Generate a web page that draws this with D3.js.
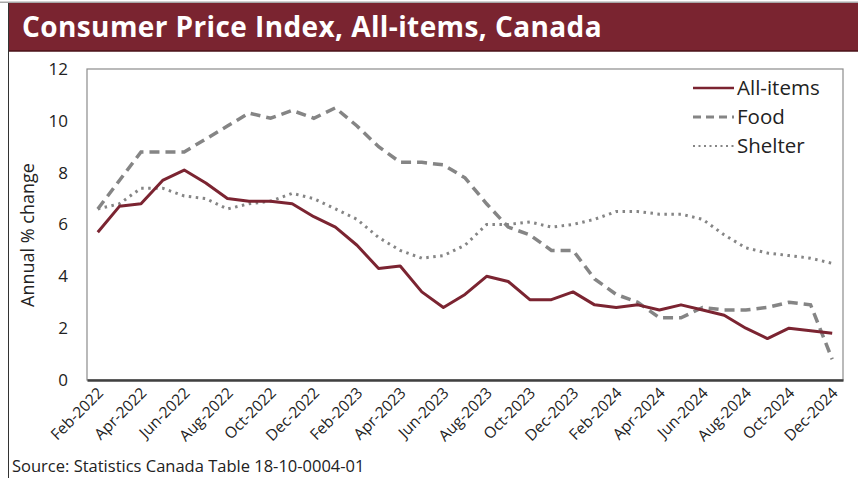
<!DOCTYPE html>
<html>
<head>
<meta charset="utf-8">
<script src="https://cdn.jsdelivr.net/npm/d3@7"></script>
<style>
  body { margin: 0; background: #fff; }
  svg { display: block; font-family: "Open Sans", sans-serif; }
</style>
</head>
<body>
<div id="chart"></div>
<script>
// monthly labels, Feb-2022 .. Dec-2024
var months = ["Feb-2022","Mar-2022","Apr-2022","May-2022","Jun-2022","Jul-2022","Aug-2022","Sep-2022","Oct-2022","Nov-2022","Dec-2022",
  "Jan-2023","Feb-2023","Mar-2023","Apr-2023","May-2023","Jun-2023","Jul-2023","Aug-2023","Sep-2023","Oct-2023","Nov-2023","Dec-2023",
  "Jan-2024","Feb-2024","Mar-2024","Apr-2024","May-2024","Jun-2024","Jul-2024","Aug-2024","Sep-2024","Oct-2024","Nov-2024","Dec-2024"];

var allItems = [5.7,6.7,6.8,7.7,8.1,7.6,7.0,6.9,6.9,6.8,6.3,
  5.9,5.2,4.3,4.4,3.4,2.8,3.3,4.0,3.8,3.1,3.1,3.4,
  2.9,2.8,2.9,2.7,2.9,2.7,2.5,2.0,1.6,2.0,1.9,1.8];

var food = [6.6,7.7,8.8,8.8,8.8,9.3,9.8,10.3,10.1,10.4,10.1,
  10.5,9.8,9.0,8.4,8.4,8.3,7.8,6.8,5.9,5.6,5.0,5.0,
  3.9,3.3,3.0,2.4,2.4,2.8,2.7,2.7,2.8,3.0,2.9,0.8];

var shelter = [6.6,6.8,7.4,7.4,7.1,7.0,6.6,6.8,6.9,7.2,7.0,
  6.6,6.2,5.5,5.0,4.7,4.8,5.2,6.0,6.0,6.1,5.9,6.0,
  6.2,6.5,6.5,6.4,6.4,6.2,5.6,5.1,4.9,4.8,4.7,4.5];

var yTicks = [0,2,4,6,8,10,12];
var seriesNames = ["All-items","Food","Shelter"];

var W = 858, H = 478;
var plotLeft = 87, plotRight = 843, plotTop = 69, plotBottom = 380;
var red = "#7b2431", grey = "#858585";

var svg = d3.select("#chart").append("svg").attr("width", W).attr("height", H);

// title band
svg.append("rect").attr("x", 0).attr("y", 1.5).attr("width", W).attr("height", 1.5).attr("fill", "#a8a8a8");
svg.append("rect").attr("x", 8).attr("y", 3).attr("width", W - 8).attr("height", 48).attr("fill", "#7a2430");
svg.append("line").attr("x1", 8).attr("x2", W).attr("y1", 51).attr("y2", 51).attr("stroke", "#4a1219").attr("stroke-width", 1.5);
svg.append("line").attr("x1", 8.5).attr("x2", 8.5).attr("y1", 3).attr("y2", H).attr("stroke", "#333").attr("stroke-width", 1);
svg.append("text").attr("x", 22).attr("y", 37)
  .attr("fill", "#fff").style("font-size", "28px").style("font-weight", 700)
  .style("letter-spacing", "0.4px")
  .text("Consumer Price Index, All-items, Canada");

var x = d3.scalePoint().domain(months).range([plotLeft, plotRight]).padding(0.5);
var y = d3.scaleLinear().domain([0, 12]).range([plotBottom, plotTop]);

// plot frame
svg.append("rect").attr("x", plotLeft).attr("y", plotTop).attr("width", plotRight - plotLeft).attr("height", plotBottom - plotTop)
  .attr("fill", "none").attr("stroke", "#8c8c8c").attr("stroke-width", 1.2);

// y axis
var yAxis = svg.append("g").attr("transform", "translate(" + plotLeft + ",0)")
  .call(d3.axisLeft(y).tickValues(yTicks).tickSize(0).tickPadding(19));
yAxis.select(".domain").remove();
yAxis.selectAll("text").style("font-size", "17px").attr("fill", "#222").style("font-family", "Open Sans");

svg.append("text")
  .attr("transform", "translate(34,235)rotate(-90)")
  .attr("text-anchor", "middle").style("font-size", "18px").attr("fill", "#222")
  .text("Annual % change");

// x axis
var xAxis = svg.append("g").attr("transform", "translate(0," + plotBottom + ")")
  .call(d3.axisBottom(x).tickValues(months.filter(function (d, i) { return i % 2 === 0; })).tickSize(0).tickPadding(0));
xAxis.select(".domain").attr("stroke", "#404040").attr("stroke-width", 2.5);
xAxis.selectAll("text")
  .style("font-size", "15.5px").attr("fill", "#222").style("font-family", "Open Sans")
  .attr("text-anchor", "end")
  .attr("y", 0).attr("dy", 0)
  .attr("transform", "translate(6,14)rotate(-45)");

// lines
var line = d3.line()
  .x(function (d, i) { return x(months[i]); })
  .y(function (d) { return y(d); });

svg.append("path").datum(shelter).attr("d", line)
  .attr("fill", "none").attr("stroke", grey).attr("stroke-width", 3)
  .attr("stroke-dasharray", "2.5,4.5");
svg.append("path").datum(food).attr("d", line)
  .attr("fill", "none").attr("stroke", grey).attr("stroke-width", 3.5)
  .attr("stroke-dasharray", "10,6");
svg.append("path").datum(allItems).attr("d", line)
  .attr("fill", "none").attr("stroke", red).attr("stroke-width", 3)
  .attr("stroke-linejoin", "round");

// legend
var legendStyles = [
  { stroke: red, width: 2.5, dash: null },
  { stroke: grey, width: 3, dash: "8,5" },
  { stroke: grey, width: 2, dash: "2,3.5" }
];
var legend = svg.append("g");
seriesNames.forEach(function (name, i) {
  var ly = 88 + i * 29;
  legend.append("line").attr("x1", 693).attr("x2", 734).attr("y1", ly).attr("y2", ly)
    .attr("stroke", legendStyles[i].stroke).attr("stroke-width", legendStyles[i].width)
    .attr("stroke-dasharray", legendStyles[i].dash);
  legend.append("text").attr("x", 737).attr("y", ly + 7)
    .style("font-size", "20.5px").attr("fill", "#222").text(name);
});

// source
svg.append("text").attr("x", 12).attr("y", 472)
  .style("font-size", "16.5px").attr("fill", "#222")
  .text("Source: Statistics Canada Table 18-10-0004-01");
</script>
</body>
</html>
